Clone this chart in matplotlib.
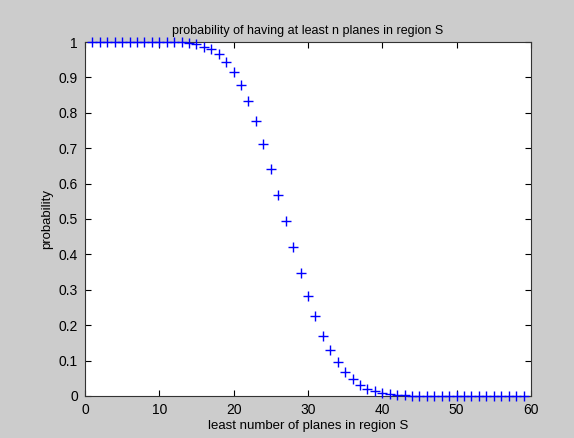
import numpy as np
import matplotlib
matplotlib.use("Agg")
import matplotlib.pyplot as plt

# ----------------------------
# DATOS
# ----------------------------

n_planes = list(range(1, 60))

probabilidad = (
    [1.0] * 12
    + [1.0, 0.996, 0.994, 0.987, 0.979, 0.965, 0.943, 0.916,
       0.880, 0.833, 0.778, 0.712, 0.641, 0.569, 0.493, 0.420,
       0.348, 0.282, 0.225, 0.169, 0.130, 0.097, 0.068, 0.047,
       0.032, 0.021, 0.013, 0.009, 0.006, 0.004, 0.002, 0.001]
    + [0.0] * 15
)

x_ticks = [0, 10, 20, 30, 40, 50, 60]
y_ticks = [0, 0.1, 0.2, 0.3, 0.4, 0.5, 0.6, 0.7, 0.8, 0.9, 1]
y_labels = ["0", "0.1", "0.2", "0.3", "0.4", "0.5",
            "0.6", "0.7", "0.8", "0.9", "1"]

# ----------------------------
# FIGURA
# ----------------------------

plt.rcParams["font.family"] = ["Liberation Sans", "DejaVu Sans"]

fig = plt.figure(figsize=(5.74, 4.38), dpi=100)
fig.patch.set_facecolor("#cccccc")

ax = fig.add_axes([0.148, 0.096, 0.777, 0.808])
ax.set_facecolor("white")

ax.plot(
    n_planes,
    probabilidad,
    linestyle="none",
    marker="+",
    markersize=7.5,
    markeredgewidth=1.0,
    color="blue",
    clip_on=False,
    zorder=3
)

ax.set_xlim(0, 60)
ax.set_ylim(0, 1)
ax.set_xticks(x_ticks)
ax.set_yticks(y_ticks)
ax.set_yticklabels(y_labels)

ax.tick_params(
    direction="in",
    top=True,
    right=True,
    length=4,
    labelsize=10,
    pad=5
)

for s in ax.spines.values():
    s.set_linewidth(0.8)
    s.set_color("#333333")

ax.set_title(
    "probability of having at least n planes in region S",
    fontsize=9,
    pad=6
)
ax.set_xlabel("least number of planes in region S", fontsize=9.5, labelpad=2)
ax.set_ylabel("probability", fontsize=9.5, labelpad=4)

plt.savefig("out.png", dpi=100, facecolor=fig.get_facecolor())
